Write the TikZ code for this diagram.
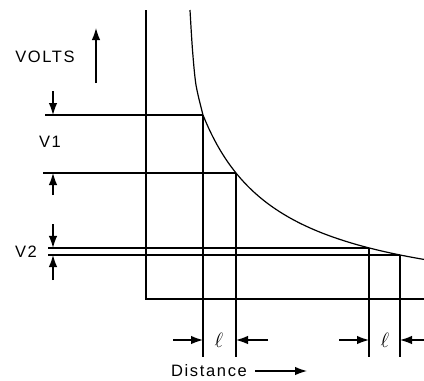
\documentclass[tikz,border=0pt]{standalone}
\usepackage{fontspec}
\setmainfont{Liberation Sans}
\usetikzlibrary{arrows.meta}

\begin{document}
\begin{tikzpicture}[x=1pt,y=-1pt,line width=1.2pt,
  dimarrow/.style={-{Latex[length=12pt,width=8.5pt]}},
  lbl/.style={font=\fontsize{16.5}{18}\selectfont\addfontfeature{LetterSpace=10},inner sep=0pt}]
\useasboundingbox (0,0) rectangle (424,381);
% axes
\coordinate (top) at (146,10); \coordinate (org) at (146,299); \coordinate (xend) at (424,299);
\draw (top) -- (org) -- (xend);
% curve: steep top, then V = c - A/(x-x0)
\coordinate (a1) at (203,115); \coordinate (a2) at (236,173);
\coordinate (b1) at (369,247.9); \coordinate (b2) at (400,255);
\draw plot[smooth,tension=0.5] coordinates {(190,10) (192.5,50) (196,85) (a1)}
  -- plot[domain=203:424,samples=80] (\x,{310.6-15317/(\x-124.7)});
% levels and drops
\coordinate (v1t) at (45,115); \coordinate (v1b) at (43,173);
\coordinate (v2t) at (48,247.9); \coordinate (v2b) at (48,255);
\draw (v1t) -- (a1); \draw (v1b) -- (a2); \draw (v2t) -- (b1); \draw (v2b) -- (b2);
\foreach \p/\n in {a1/d1,a2/d2,b1/d3,b2/d4} {
  \coordinate (\n) at (\p |- 0,357);
  \draw (\p) -- (\n);
}
% voltage marks
\foreach \s/\e in {91/115,195/173,224/247.9,280/255} {
  \coordinate (ms) at (53,\s); \coordinate (me) at (53,\e);
  \draw[dimarrow] (ms) -- (me);
}
\node[lbl] (v1) at (50,142) {V1};
\node[lbl] (v2) at (26,252) {V2};
% distance marks
\coordinate (l1a) at (173,340); \coordinate (l1b) at (203,340);
\coordinate (l2a) at (268,340); \coordinate (l2b) at (236,340);
\coordinate (l3a) at (339,340); \coordinate (l3b) at (369,340);
\coordinate (l4a) at (424,340); \coordinate (l4b) at (400,340);
\draw[dimarrow] (l1a) -- (l1b); \draw[dimarrow] (l2a) -- (l2b);
\draw[dimarrow] (l3a) -- (l3b); \draw[dimarrow] (l4a) -- (l4b);
\node[inner sep=0pt,font=\fontsize{22}{24}\selectfont] (ell1) at (219,340) {$\ell$};
\node[inner sep=0pt,font=\fontsize{22}{24}\selectfont] (ell2) at (385,340) {$\ell$};
% axis names
\node[lbl] (volts) at (45,57) {VOLTS};
\coordinate (vu0) at (96,83); \coordinate (vu1) at (96,28);
\draw[dimarrow] (vu0) -- (vu1);
\node[lbl] (dist) at (209,371) {Distance};
\coordinate (dx0) at (255,371); \coordinate (dx1) at (307,371);
\draw[dimarrow] (dx0) -- (dx1);
\end{tikzpicture}
\end{document}
